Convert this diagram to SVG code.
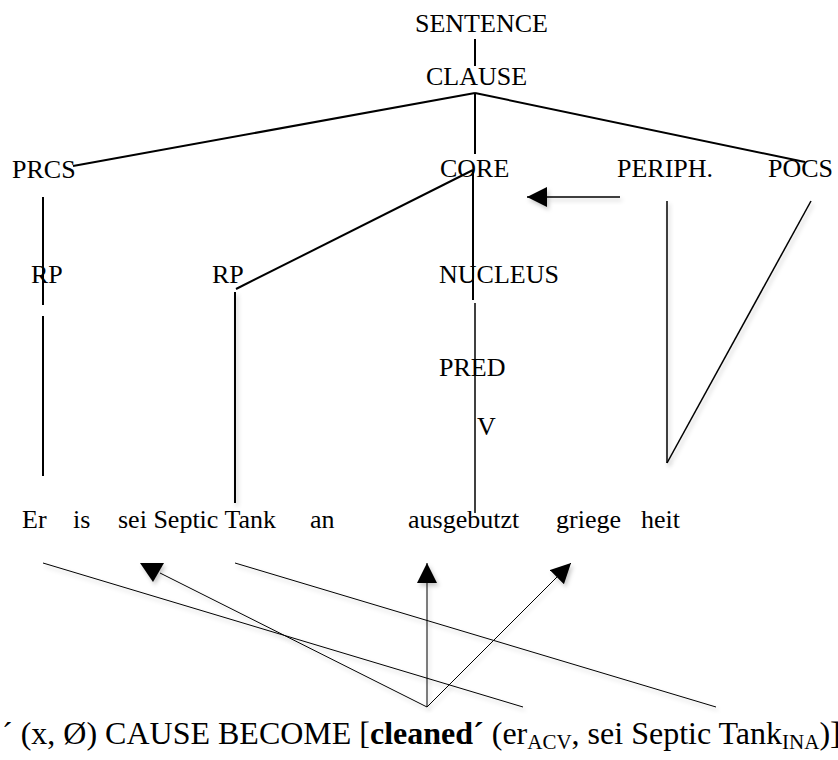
<svg xmlns="http://www.w3.org/2000/svg" width="838" height="760" viewBox="0 0 838 760">
<style>
.lbl{font-size:26px}
.big{font-size:32px}
.sub{font-size:21px}
.thick{stroke:#000;stroke-width:2;fill:none}
.mid{stroke:#000;stroke-width:1.5;fill:none}
.thin{stroke:#000;stroke-width:1;fill:none}
.sh{filter:url(#shadow)}
</style>
<defs>
<filter id="shadow" filterUnits="userSpaceOnUse" x="0" y="0" width="838" height="760">
<feDropShadow dx="2" dy="3" stdDeviation="2" flood-color="#000" flood-opacity="0.22"/>
</filter>
<marker id="ah" markerUnits="userSpaceOnUse" markerWidth="20" markerHeight="20" refX="20" refY="10" orient="auto">
<path d="M0,0 L20,10 L0,20 z" fill="#000"/>
</marker>
</defs>
<rect width="838" height="760" fill="#fff"/>
<g id="connectors">
<line class="thick" x1="475" y1="39" x2="475" y2="66"/>
<line class="thick" x1="475" y1="93" x2="73" y2="166"/>
<line class="thick" x1="475" y1="93" x2="475" y2="154"/>
<line class="thick" x1="475" y1="93" x2="805" y2="162"/>
<line class="thick" x1="43" y1="197" x2="43" y2="305"/>
<line class="thick" x1="43" y1="316" x2="43" y2="476"/>
<line class="thick" x1="473" y1="170" x2="236" y2="289"/>
<line class="thick" x1="473" y1="170" x2="473" y2="300"/>
<line class="mid" x1="475" y1="303" x2="475" y2="513"/>
<line class="thick sh" x1="235" y1="292" x2="235" y2="503"/>
<line class="mid sh" x1="620" y1="197" x2="527" y2="197" marker-end="url(#ah)"/>
<line class="mid sh" x1="667" y1="201" x2="667" y2="463"/>
<line class="mid sh" x1="667" y1="463" x2="811" y2="201"/>
<line class="thin sh" x1="43" y1="563" x2="523" y2="707"/>
<line class="thin sh" x1="235" y1="563" x2="716" y2="707"/>
<line class="thin sh" x1="427" y1="707" x2="160" y2="573"/>
<polygon class="sh" points="140,563 164,563 153,582" fill="#000"/>
<line class="thin sh" x1="427" y1="707" x2="427" y2="563" marker-end="url(#ah)"/>
<line class="thin sh" x1="427" y1="707" x2="571" y2="563" marker-end="url(#ah)"/>
</g>
<g font-family="'Liberation Serif', 'Times New Roman', serif" fill="#000">
<g id="n-sentence"><text class="lbl" x="415" y="32">SENTENCE</text></g>
<g id="n-clause"><text class="lbl" x="426" y="85">CLAUSE</text></g>
<g id="n-prcs"><text class="lbl" x="12" y="178">PRCS</text></g>
<g id="n-core"><text class="lbl" x="440" y="177">CORE</text></g>
<g id="n-periph"><text class="lbl" x="617" y="177">PERIPH.</text></g>
<g id="n-pocs"><text class="lbl" x="768" y="177">POCS</text></g>
<g id="n-rp1"><text class="lbl" x="31" y="283">RP</text></g>
<g id="n-rp2"><text class="lbl" x="212" y="283">RP</text></g>
<g id="n-nucleus"><text class="lbl" x="439" y="283">NUCLEUS</text></g>
<g id="n-pred"><text class="lbl" x="439" y="376">PRED</text></g>
<g id="n-v"><text class="lbl" x="477" y="435">V</text></g>
<g id="n-words">
<text class="lbl" x="22" y="528">Er</text>
<text class="lbl" x="73" y="528">is</text>
<text class="lbl" x="118" y="528">sei Septic Tank</text>
<text class="lbl" x="310" y="528">an</text>
<text class="lbl" x="408" y="528">ausgebutzt</text>
<text class="lbl" x="556" y="528">griege</text>
<text class="lbl" x="641" y="528">heit</text>
</g>
<g id="n-logical">
<text class="big" x="2" y="744">´ (x, Ø) CAUSE BECOME [<tspan font-weight="bold">cleaned´</tspan> (er<tspan class="sub" dy="5">ACV</tspan><tspan dy="-5">, sei Septic Tank</tspan><tspan class="sub" dy="5">INA</tspan><tspan dy="-5">)]</tspan></text>
</g>
</g>
</svg>
